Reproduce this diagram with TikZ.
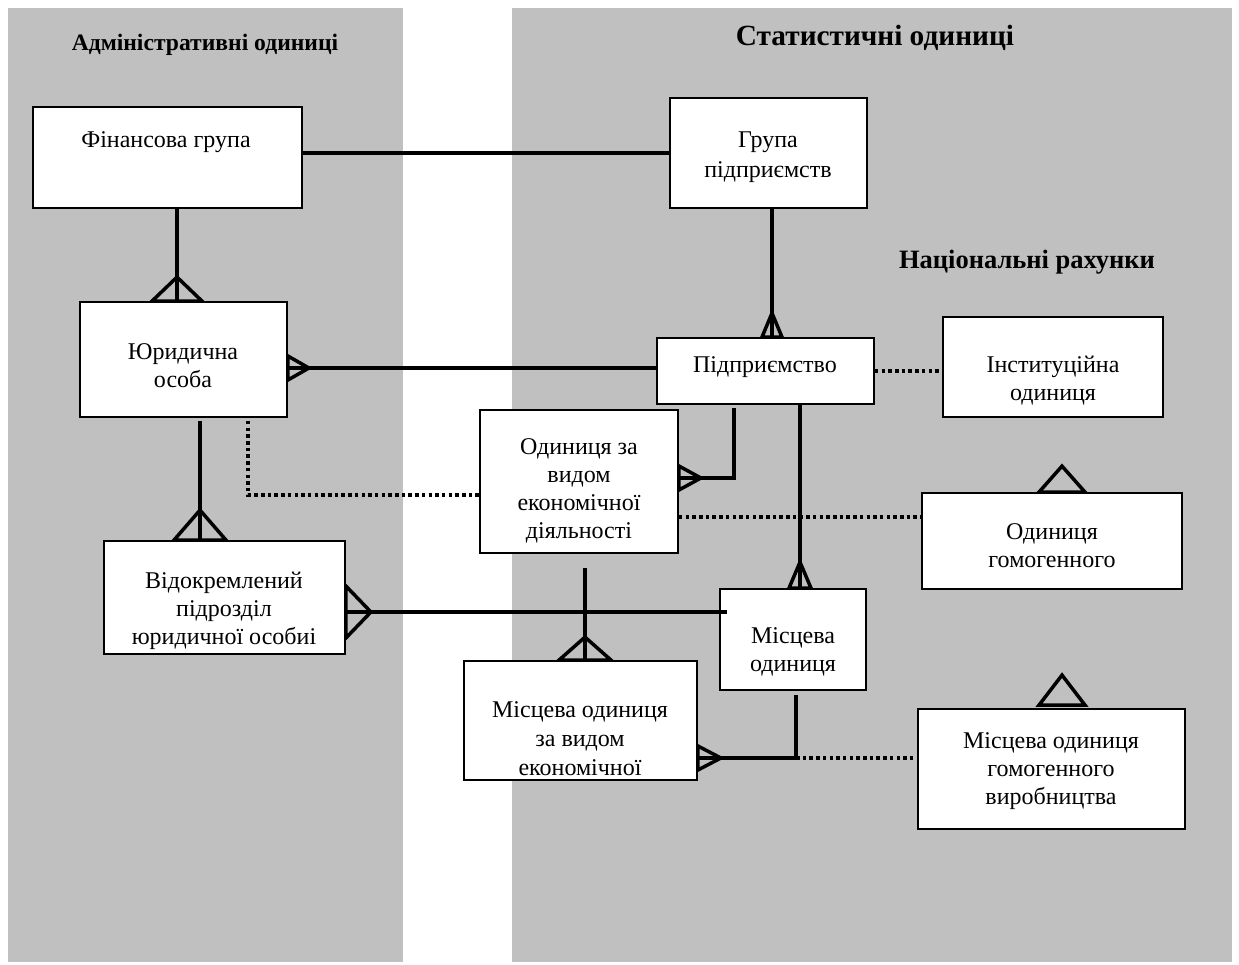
\documentclass[tikz,border=0pt]{standalone}
\usepackage{fontspec}
\setmainfont{Liberation Serif}
\usetikzlibrary{calc}
\definecolor{panelgray}{RGB}{192,192,192}
\begin{document}
\begin{tikzpicture}[x=1pt,y=-1pt,
  box/.style={draw, line width=1.8pt, fill=white, inner sep=0pt, rectangle},
  txt/.style={align=center, font=\fontsize{24}{28}\selectfont, inner sep=0pt, yshift=-2.5pt},
  ttl/.style={font=\bfseries\fontsize{#1}{#1}\selectfont, inner sep=0pt},
  conn/.style={line width=3.5pt},
  dots/.style={line width=3.5pt, dash pattern=on 3.5pt off 3.2pt},
  crowline/.style={line width=3.5pt, line join=miter},
  pics/crowtop/.style 2 args={code={\draw[crowline] (-#2,0) -- (0,-#1) -- (#2,0) -- cycle;}},
  pics/crowside/.style 2 args={code={\draw[crowline] (0,-#2) -- (#1,0) -- (0,#2) -- cycle;}},
]
\useasboundingbox[fill=white] (0,0) rectangle (1239,964);
\fill[panelgray] (8,8) rectangle (403,962);
\fill[panelgray] (512,8) rectangle (1232,962);

% titles
\node[ttl=23.6] (tadm) at (205,45) {Адміністративні одиниці};
\node[ttl=29.3] (tstat) at (875,38) {Статистичні одиниці};
\node[ttl=26.5] (tnat) at (1027,262) {Національні рахунки};

% boxes
\node[box, minimum width=269pt, minimum height=101pt] (fin) at (167.5,157.5) {};
\node[box, minimum width=197pt, minimum height=110pt] (grp) at (768.5,153) {};
\node[box, minimum width=207pt, minimum height=115pt] (jur) at (183.5,359.5) {};
\node[box, minimum width=217pt, minimum height=66pt] (pid) at (765.5,371) {};
\node[box, minimum width=220pt, minimum height=100pt] (inst) at (1053,367) {};
\node[box, minimum width=198pt, minimum height=143pt] (ovd) at (579,481.5) {};
\node[box, minimum width=260pt, minimum height=96pt] (ogom) at (1052,541) {};
\node[box, minimum width=241pt, minimum height=113pt] (vid) at (224.5,597.5) {};
\node[box, minimum width=146pt, minimum height=101pt] (mo) at (793,639.5) {};
\node[box, minimum width=233pt, minimum height=119pt] (mov) at (580.5,720.5) {};
\node[box, minimum width=267pt, minimum height=120pt] (mog) at (1051.5,769) {};

% texts
\node[txt] (tfin) at (166,140) {Фінансова група};
\node[txt, font=\fontsize{24}{30}\selectfont] (tgrp) at (768,155) {Група\\підприємств};
\node[txt] (tjur) at (183,363.5) {Юридична\\особа};
\node[txt] (tpid) at (765,365) {Підприємство};
\node[txt] (tinst) at (1053,378.5) {Інституційна\\одиниця};
\node[txt] (tovd) at (579,488) {Одиниця за\\видом\\економічної\\діяльності};
\node[txt] (togom) at (1052,543.5) {Одиниця\\гомогенного};
\node[txt] (tvid) at (224,608) {Відокремлений\\підрозділ\\юридичної особиі};
\node[txt] (tmo) at (793,649.5) {Місцева\\одиниця};
\node[txt, font=\fontsize{24}{29}\selectfont] (tmov) at (580,736) {Місцева одиниця\\за видом\\економічної};
\node[txt] (tmog) at (1051,768.5) {Місцева одиниця\\гомогенного\\виробництва};

% Фінансова група -- Група підприємств
\draw[conn] (fin.east |- grp.west) -- (grp.west);

% Фінансова група -> Юридична особа
\coordinate (a1) at ([xshift=-6.5pt]jur.north);
\draw[conn] (a1 |- fin.south) -- (a1);
\path (a1) pic {crowtop={24}{25}};

% Група підприємств -> Підприємство
\coordinate (a2) at ([xshift=6.5pt]pid.north);
\draw[conn] (a2 |- grp.south) -- (a2);
\path (a2) pic {crowtop={24}{10}};

% Підприємство -> Юридична особа
\coordinate (a3) at ([yshift=3pt]pid.west);
\draw[conn] (a3) -- (a3 -| jur.east);
\path (a3 -| jur.east) pic {crowside={21}{12}};

% Підприємство ... Інституційна одиниця
\draw[dots] (pid.east) -- (pid.east -| inst.west);

% Підприємство -> Одиниця за видом
\coordinate (a4) at ([xshift=-31.5pt]pid.south);
\coordinate (b4) at ([yshift=3.5pt]ovd.east);
\draw[conn] ($(a4)+(0,3)$) |- (b4);
\path (b4) pic {crowside={22}{12}};

% Підприємство -> Місцева одиниця
\coordinate (a5) at ([xshift=7pt]mo.north);
\draw[conn] (a5 |- pid.south) -- (a5);
\path (a5) pic {crowtop={26}{11}};

% Юридична особа -> Відокремлений підрозділ
\coordinate (a6) at ([xshift=-24.5pt]vid.north);
\draw[conn] ($(a6 |- jur.south)+(0,3)$) -- (a6);
\path (a6) pic {crowtop={30}{26}};

% Юридична особа ... Одиниця за видом
\coordinate (a7) at ([xshift=64.5pt]jur.south);
\coordinate (b7) at ([yshift=-13.5pt]ovd.west);
\draw[dots] ($(a7)+(0,3)$) |- (b7);

% Одиниця за видом ... Одиниця гомогенного
\coordinate (a8) at ([yshift=-35.5pt]ovd.east);
\draw[dots] (a8) -- (a8 -| ogom.west);

% Одиниця за видом -> Місцева одиниця за видом
\coordinate (a9) at ([xshift=4.5pt]mov.north);
\draw[conn] ($(a9 |- ovd.south)+(0,14)$) -- (a9);
\path (a9) pic {crowtop={23}{26}};

% Відокремлений підрозділ -- Місцева одиниця
\coordinate (a10) at ([yshift=-14.5pt]vid.east);
\draw[conn] (a10) -- ($(a10 -| mo.west)+(8,0)$);
\path (a10) pic {crowside={25}{26}};

% Місцева одиниця -> Місцева одиниця за видом
\coordinate (a11) at ([xshift=3pt]mo.south);
\coordinate (b11) at ([yshift=-37.5pt]mov.east);
\draw[conn] ($(a11)+(0,4)$) |- (b11);
\path (b11) pic {crowside={23}{12}};
\draw[dots] (a11 |- b11) -- (b11 -| mog.west);

% free triangles
\path ([xshift=10pt]ogom.north) pic {crowtop={26}{23}};
\path ([xshift=10.5pt,yshift=3pt]mog.north) pic {crowtop={30}{23}};
\end{tikzpicture}
\end{document}
